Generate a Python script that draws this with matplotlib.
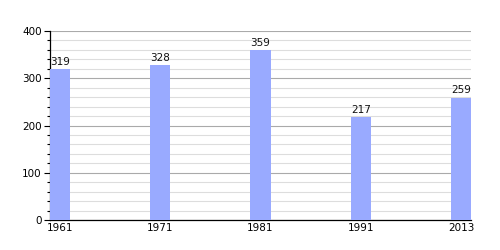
import matplotlib
matplotlib.use("Agg")
import matplotlib.pyplot as plt
import numpy as np
from matplotlib.ticker import MultipleLocator

years = ["1961", "1971", "1981", "1991", "2013"]
values = [319, 328, 359, 217, 259]

fig = plt.figure(figsize=(5, 2.5), dpi=100)
ax = fig.add_axes([0.1, 0.12, 0.842, 0.756])

x = np.arange(len(years))
bw = 0.2
ax.bar(x, values, width=bw, align="edge", color="#99aaff", zorder=3)
for xi, v in zip(x, values):
    ax.text(xi + bw / 2, v + 5, str(v), ha="center", va="bottom", fontsize=7.5, color="#111111", zorder=4)

ax.set_xlim(0, len(years) - 1 + bw)
ax.set_ylim(0, 400)
ax.set_xticks(x + bw / 2)
ax.set_xticklabels(years, fontsize=7.5)
ax.tick_params(axis="x", length=0, pad=2)
ax.yaxis.set_major_locator(MultipleLocator(100))
ax.yaxis.set_minor_locator(MultipleLocator(20))
ax.tick_params(axis="y", which="major", length=4, width=0.8, labelsize=7.5, pad=2)
ax.tick_params(axis="y", which="minor", length=2.5, width=0.8)
ax.grid(axis="y", which="major", color="#aaaaaa", linewidth=0.8, zorder=0)
ax.grid(axis="y", which="minor", color="#dddddd", linewidth=0.8, zorder=0)
for s in ["top", "right"]:
    ax.spines[s].set_visible(False)
ax.spines["left"].set_linewidth(0.9)
ax.spines["bottom"].set_linewidth(0.9)

fig.savefig("out.png", dpi=100)
